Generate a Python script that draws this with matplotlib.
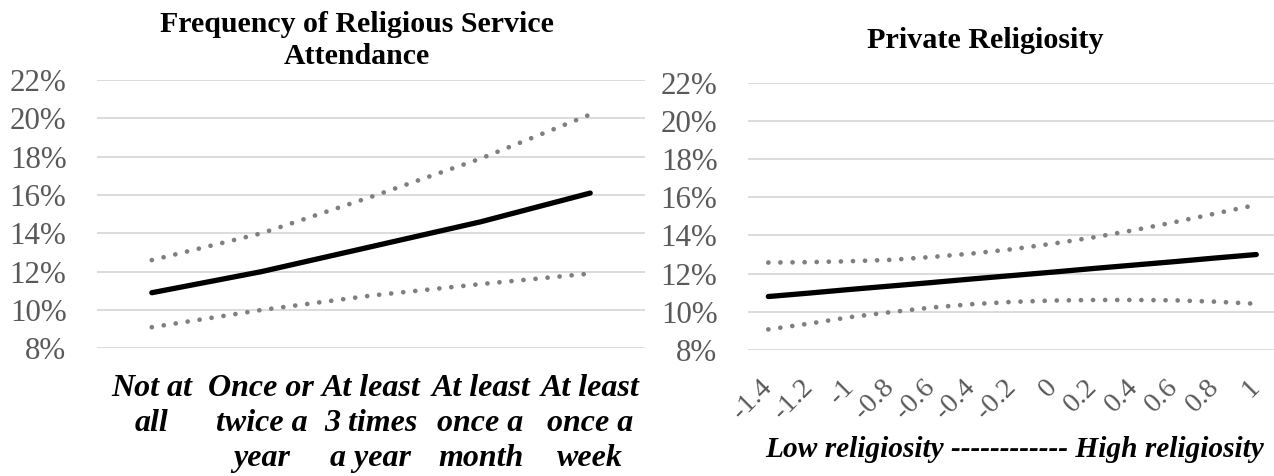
import matplotlib
matplotlib.use("Agg")
import matplotlib.pyplot as plt
from matplotlib.ticker import FuncFormatter, FixedLocator

# Predicted probability (%) by frequency of service attendance
attendance_labels = ["Not at\nall", "Once or\ntwice a\nyear", "At least\n3 times\na year",
                     "At least\nonce a\nmonth", "At least\nonce a\nweek"]
attendance_estimate = [10.9, 12.0, 13.3, 14.6, 16.1]
attendance_upper = [12.6, 14.0, 15.9, 17.9, 20.2]
attendance_lower = [9.1, 10.0, 10.75, 11.35, 11.9]

# Predicted probability (%) by private religiosity score
religiosity_labels = ["-1.4", "-1.2", "-1", "-0.8", "-0.6", "-0.4", "-0.2",
                      "0", "0.2", "0.4", "0.6", "0.8", "1"]
religiosity_estimate = [10.80, 10.98, 11.17, 11.35, 11.53, 11.72, 11.90,
                        12.08, 12.27, 12.45, 12.63, 12.82, 13.00]
religiosity_upper = [12.58, 12.60, 12.65, 12.72, 12.87, 13.05, 13.28,
                     13.57, 13.90, 14.28, 14.70, 15.15, 15.60]
religiosity_lower = [9.08, 9.38, 9.72, 9.98, 10.22, 10.40, 10.52,
                     10.59, 10.62, 10.62, 10.60, 10.53, 10.42]

y_ticks = [8, 10, 12, 14, 16, 18, 20, 22]

SERIF = ["Liberation Serif", "DejaVu Serif"]
GRID = "#d9d9d9"
LABEL_GREY = "#595959"
CI_GREY = "#7f7f7f"

W, H = 1274, 476
fig = plt.figure(figsize=(W / 100, H / 100), dpi=100)


def px_axes(x0, x1, ytop, ybot):
    return fig.add_axes([x0 / W, 1 - ybot / H, (x1 - x0) / W, (ybot - ytop) / H])


def style_axes(ax, n):
    ax.set_ylim(8, 22)
    ax.set_xlim(-0.5, n - 0.5)
    ax.yaxis.set_major_locator(FixedLocator(y_ticks))
    ax.yaxis.set_major_formatter(FuncFormatter(lambda v, _: f"{v:.0f}%"))
    ax.grid(axis="y", color=GRID, linewidth=1.3)
    ax.set_axisbelow(True)
    for s in ax.spines.values():
        s.set_visible(False)
    ax.tick_params(axis="both", length=0)
    ax.tick_params(axis="y", pad=22, labelsize=22.3, labelcolor=LABEL_GREY)
    for t in ax.get_yticklabels():
        t.set_fontfamily(SERIF)


def draw_series(ax, est, up, lo):
    x = list(range(len(est)))
    dot = dict(color=CI_GREY, linewidth=3.4, linestyle=(0, (0.01, 2.55)),
               dash_capstyle="round", clip_on=False)
    ax.plot(x, up, **dot)
    ax.plot(x, lo, **dot)
    ax.plot(x, est, color="black", linewidth=3.8, solid_capstyle="round", clip_on=False)


# Left panel: service attendance
ax1 = px_axes(97, 645, 80, 348.3)
style_axes(ax1, len(attendance_labels))
draw_series(ax1, attendance_estimate, attendance_upper, attendance_lower)
ax1.set_xticks(range(len(attendance_labels)))
ax1.set_xticklabels(attendance_labels, fontfamily=SERIF, fontsize=23,
                    fontweight="bold", fontstyle="italic", linespacing=1.28)
ax1.tick_params(axis="x", pad=18.5)

fig.text(357 / W, 1 - 11 / H, "Frequency of Religious Service\nAttendance",
         ha="center", va="top", fontfamily=SERIF, fontsize=21.5,
         fontweight="bold", linespacing=1.25)

# Right panel: private religiosity
ax2 = px_axes(748, 1276.6, 82.7, 350)
style_axes(ax2, len(religiosity_labels))
draw_series(ax2, religiosity_estimate, religiosity_upper, religiosity_lower)
ax2.set_xticks(range(len(religiosity_labels)))
ax2.set_xticklabels(religiosity_labels, fontfamily=SERIF, fontsize=20.5,
                    color=LABEL_GREY, rotation=45, ha="right", va="center",
                    rotation_mode="anchor")
ax2.tick_params(axis="x", pad=24)

fig.text(985 / W, 1 - 48 / H, "Private Religiosity", ha="center", va="baseline",
         fontfamily=SERIF, fontsize=21.7, fontweight="bold")

fig.text(1015 / W, 1 - 457 / H, "Low religiosity ------------ High religiosity",
         ha="center", va="baseline", fontfamily=SERIF, fontsize=21.2,
         fontweight="bold", fontstyle="italic")

fig.savefig("out.png", dpi=100)
